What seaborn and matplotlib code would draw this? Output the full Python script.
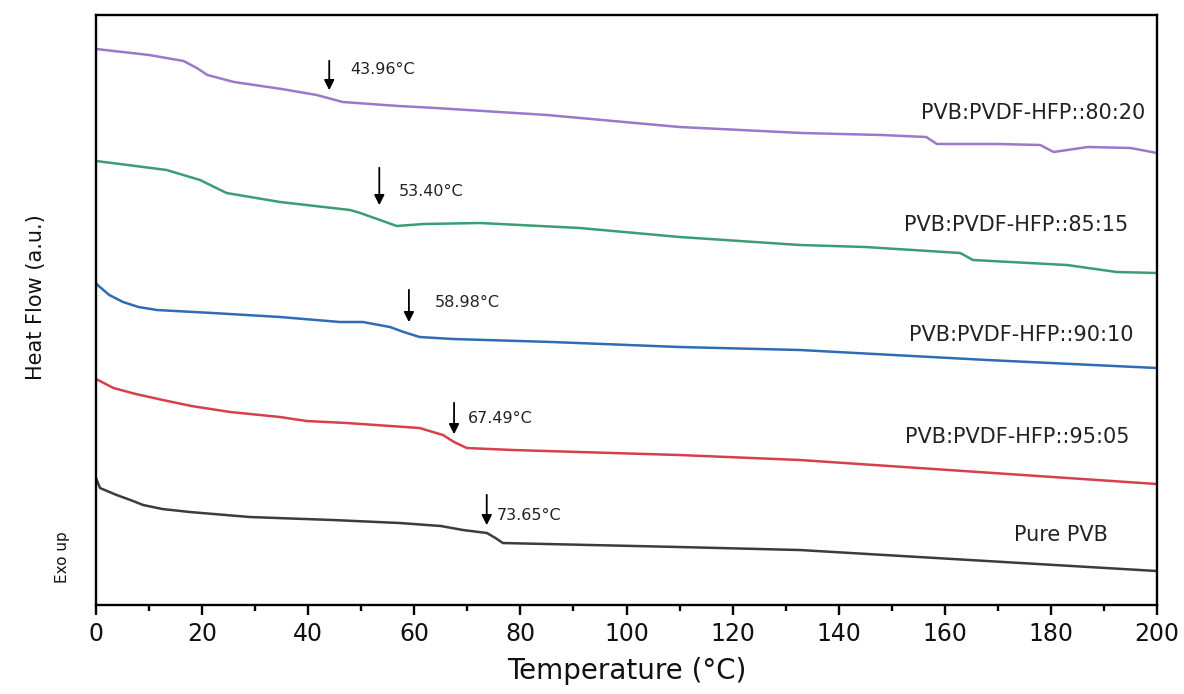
import pandas as pd
import seaborn as sns
import matplotlib.pyplot as plt
from matplotlib.ticker import MultipleLocator

# DSC curves (temperature in C, heat flow in a.u.)
pvdf20_t = [0, 5, 10, 16.5, 19, 21, 26, 35, 41.6, 46.5, 57, 64, 85, 97.5, 110, 133, 148, 156.5, 158.5, 170, 178, 180.5, 187, 195, 200]
pvdf20_hf = [5.56, 5.53, 5.50, 5.44, 5.37, 5.30, 5.23, 5.16, 5.10, 5.03, 4.99, 4.97, 4.90, 4.84, 4.78, 4.72, 4.70, 4.68, 4.61, 4.61, 4.60, 4.53, 4.58, 4.57, 4.52]

pvdf15_t = [0, 6, 13.3, 19.6, 24.6, 34.7, 47.9, 49.8, 53, 56.7, 61.7, 72.4, 91.2, 110, 132.7, 145, 162.9, 165.3, 183, 192.4, 200]
pvdf15_hf = [4.44, 4.40, 4.35, 4.25, 4.12, 4.03, 3.95, 3.92, 3.86, 3.79, 3.81, 3.82, 3.77, 3.68, 3.60, 3.58, 3.52, 3.45, 3.40, 3.33, 3.32]

pvdf10_t = [0, 0.5, 2.5, 5.1, 8, 11.5, 22, 34.7, 46, 50.3, 55.4, 58, 61, 67.3, 86, 110, 132.7, 168, 200]
pvdf10_hf = [3.22, 3.19, 3.10, 3.03, 2.98, 2.95, 2.92, 2.88, 2.83, 2.83, 2.78, 2.73, 2.68, 2.66, 2.63, 2.58, 2.55, 2.45, 2.37]

pvdf05_t = [0, 3.3, 7.5, 12.6, 18, 25.3, 34.7, 39.7, 47.3, 61, 65.4, 67.5, 69.9, 78.6, 110, 132.7, 200]
pvdf05_hf = [2.26, 2.17, 2.11, 2.05, 1.99, 1.93, 1.88, 1.84, 1.82, 1.77, 1.70, 1.63, 1.57, 1.55, 1.50, 1.45, 1.21]

pure_t = [0, 0.75, 3.9, 6.5, 8.9, 12.5, 17.7, 29, 44.7, 57.3, 65, 69.2, 73.7, 75.3, 76.7, 110, 132.7, 200]
pure_hf = [1.27, 1.17, 1.10, 1.05, 1.00, 0.96, 0.93, 0.88, 0.85, 0.82, 0.79, 0.75, 0.72, 0.67, 0.62, 0.58, 0.55, 0.34]

samples = ['PVB:PVDF-HFP::80:20', 'PVB:PVDF-HFP::85:15', 'PVB:PVDF-HFP::90:10', 'PVB:PVDF-HFP::95:05', 'Pure PVB']
tg_values = [43.96, 53.40, 58.98, 67.49, 73.65]
colors = ['#9a78cc', '#3a9e72', '#2f6cb3', '#d6404c', '#3c3c3c']

frames = []
for name, t, hf in zip(samples,
                       [pvdf20_t, pvdf15_t, pvdf10_t, pvdf05_t, pure_t],
                       [pvdf20_hf, pvdf15_hf, pvdf10_hf, pvdf05_hf, pure_hf]):
    frames.append(pd.DataFrame({'Temperature': t, 'HeatFlow': hf, 'Sample': name}))
df = pd.concat(frames, ignore_index=True)

sns.set_style('ticks')
plt.rcParams['font.family'] = ['DejaVu Sans']

fig = plt.figure(figsize=(11.84, 6.94), dpi=100)
ax = fig.add_axes([0.0811, 0.1282, 0.8961, 0.8502])

sns.lineplot(data=df, x='Temperature', y='HeatFlow', hue='Sample', palette=colors,
             sort=False, estimator=None, linewidth=1.8, legend=False, ax=ax)

ax.set_xlim(0, 200)
ax.set_ylim(0, 5.90)

# frame and ticks
for spine in ax.spines.values():
    spine.set_visible(True)
    spine.set_linewidth(1.7)
    spine.set_color('black')
ax.xaxis.set_major_locator(MultipleLocator(20))
ax.xaxis.set_minor_locator(MultipleLocator(10))
ax.tick_params(axis='x', which='major', direction='out', length=7, width=1.7,
               labelsize=17, pad=5, colors='black', labelcolor='#111111')
ax.tick_params(axis='x', which='minor', direction='out', length=4, width=1.7, colors='black')
ax.set_yticks([])

ax.set_xlabel('Temperature (°C)', fontsize=20, labelpad=8, color='#111111')
ax.set_ylabel('')
fig.text(0.030, 0.572, 'Heat Flow (a.u.)', rotation=90, fontsize=15, ha='center', va='center', color='#111111')
fig.text(0.053, 0.197, 'Exo up', rotation=90, fontsize=11, ha='center', va='center', color='#111111')

# sample labels
label_pos = [(197.7, 4.92), (194.5, 3.80), (195.5, 2.70), (194.9, 1.68), (190.8, 0.70)]
for name, (lx, ly) in zip(samples, label_pos):
    ax.text(lx, ly, name, ha='right', va='center', fontsize=15, color='#222222')

# Tg arrows
arrow_y = [(5.47, 5.12), (4.40, 3.97), (3.18, 2.80), (2.05, 1.68), (1.13, 0.77)]
text_pos = [(47.9, 5.35), (57.1, 4.14), (63.9, 3.03), (70.1, 1.87), (75.6, 0.90)]
for tg, (y0, y1), (tx, ty) in zip(tg_values, arrow_y, text_pos):
    ax.annotate('', xy=(tg, y1), xytext=(tg, y0),
                arrowprops=dict(arrowstyle='-|>', color='black', lw=1.3, mutation_scale=15))
    ax.text(tx, ty, f'{tg:.2f}°C', ha='left', va='center', fontsize=11.5, color='#222222')

plt.savefig('out.png', dpi=100)
